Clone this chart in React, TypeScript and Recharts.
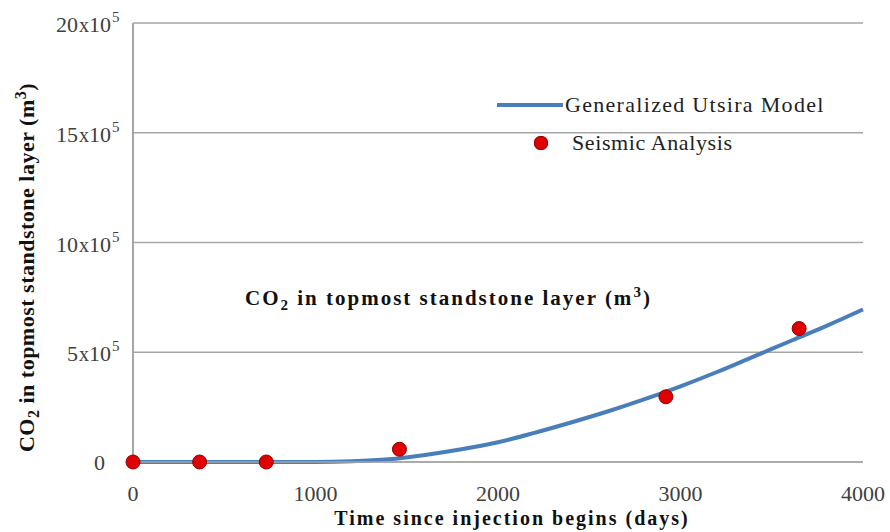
import React from "react";
import { ComposedChart, Line, Scatter, XAxis, YAxis, CartesianGrid } from "recharts";

// model curve (days, m3)
const modelDays = [0, 200, 400, 600, 800, 1000, 1200, 1400, 1600, 1800, 2000, 2200, 2400, 2600, 2800, 3000, 3200, 3400, 3600, 3800, 4000];
const modelVolume = [0, 0, 0, 0, 0, 0, 3000, 12000, 32000, 58000, 90000, 133000, 180000, 230000, 285000, 345000, 410000, 480000, 550000, 620000, 695000];

// seismic observations
const seismicDays = [0, 365, 730, 1460, 2920, 3650];
const seismicVolume = [0, 0, 0, 58000, 297000, 608000];

const xTicks = [0, 1000, 2000, 3000, 4000];
const yTicks = [0, 500000, 1000000, 1500000, 2000000];

const modelData = modelDays.map((d, i) => ({ day: d, model: modelVolume[i] }));
const seismicData = seismicDays.map((d, i) => ({ day: d, seismic: seismicVolume[i] }));

const FONT = "'Liberation Serif', 'DejaVu Serif', serif";
const LINE = "#4a7ebb";

const YTick = (props: any) => {
  const { x, y, payload } = props;
  const n = payload.value / 100000;
  if (n === 0) {
    return (
      <text x={x - 20} y={y + 8} textAnchor="end" fontFamily={FONT} fontSize={22} fill="#404040">
        0
      </text>
    );
  }
  return (
    <g>
      <text x={x - 14} y={y + 9} textAnchor="end" fontFamily={FONT} fontSize={22} fill="#404040">
        {n}
        <tspan fontSize={20} dx={1}>x</tspan>10
      </text>
      <text x={x - 13} y={y - 1} fontFamily={FONT} fontSize={15} fill="#404040">
        5
      </text>
    </g>
  );
};

const XTick = (props: any) => {
  const { x, y, payload } = props;
  return (
    <text x={x} y={y + 31} textAnchor="middle" fontFamily={FONT} fontSize={22} fill="#404040">
      {payload.value}
    </text>
  );
};

const YTitle = (props: any) => {
  const vb = props.viewBox || {};
  const cx = vb.x + 34;
  const cy = vb.y + vb.height / 2 + 25;
  return (
    <text
      x={cx}
      y={cy}
      transform={`rotate(-90 ${cx} ${cy})`}
      textAnchor="middle"
      fontFamily={FONT}
      fontWeight="bold"
      fontSize={22}
      letterSpacing={0.5}
      fill="#111"
    >
      CO<tspan fontSize={16} dy={5}>2</tspan>
      <tspan dy={-5}> in topmost standstone layer (m</tspan>
      <tspan fontSize={16} dy={-8}>3</tspan>
      <tspan dy={8}>)</tspan>
    </text>
  );
};

export default function App() {
  return (
    <div style={{ position: "absolute", left: 0, top: 0, width: 890, height: 532, background: "#fff" }}>
      <ComposedChart width={890} height={532} margin={{ top: 23, right: 27, bottom: 0, left: 0 }}>
        <CartesianGrid vertical={false} stroke="#a6a6a6" strokeWidth={1.5} />
        <XAxis
          dataKey="day"
          type="number"
          domain={[0, 4000]}
          ticks={xTicks}
          height={70}
          axisLine={{ stroke: "#a6a6a6", strokeWidth: 1.5 }}
          tickLine={false}
          tick={<XTick />}
          label={{
            value: "Time since injection begins (days)",
            position: "insideBottom",
            offset: 7,
            fontFamily: FONT,
            fontWeight: "bold",
            fontSize: 20,
            letterSpacing: 2,
            fill: "#111",
            dx: 14,
          }}
        />
        <YAxis
          type="number"
          domain={[0, 2000000]}
          ticks={yTicks}
          width={133}
          axisLine={{ stroke: "#a6a6a6", strokeWidth: 2 }}
          tickLine={false}
          tick={<YTick />}
          label={<YTitle />}
        />
        <Line
          data={modelData}
          dataKey="model"
          type="monotone"
          stroke={LINE}
          strokeWidth={4}
          dot={false}
          isAnimationActive={false}
        />
        <Scatter
          data={seismicData}
          dataKey="seismic"
          fill="#e00000"
          stroke="#8b0000"
          strokeWidth={1}
          shape={(p: any) => <circle cx={p.cx} cy={p.cy} r={7} fill="#e00000" stroke="#900000" strokeWidth={1} />}
          isAnimationActive={false}
        />
      </ComposedChart>

      {/* legend */}
      <div style={{ position: "absolute", left: 497, top: 91, fontFamily: FONT, fontSize: 22, color: "#222" }}>
        <div style={{ display: "flex", alignItems: "center", height: 28 }}>
          <span style={{ display: "inline-block", width: 66, height: 4, background: LINE, marginRight: 2 }} />
          <span style={{ letterSpacing: 1.3 }}>Generalized Utsira Model</span>
        </div>
        <div style={{ display: "flex", alignItems: "center", height: 28, marginTop: 10 }}>
          <span
            style={{
              display: "inline-block",
              width: 12,
              height: 12,
              borderRadius: 6,
              background: "#e00000",
              border: "1px solid #900000",
              marginLeft: 37,
              marginRight: 24,
            }}
          />
          <span style={{ letterSpacing: 0.6 }}>Seismic Analysis</span>
        </div>
      </div>

      {/* annotation */}
      <div
        style={{
          position: "absolute",
          left: 245,
          top: 284,
          fontFamily: FONT,
          fontWeight: "bold",
          fontSize: 21,
          letterSpacing: 2,
          color: "#111",
          whiteSpace: "nowrap",
        }}
      >
        CO<sub style={{ fontSize: 15 }}>2</sub> in topmost standstone layer (m<sup style={{ fontSize: 15 }}>3</sup>)
      </div>
    </div>
  );
}
